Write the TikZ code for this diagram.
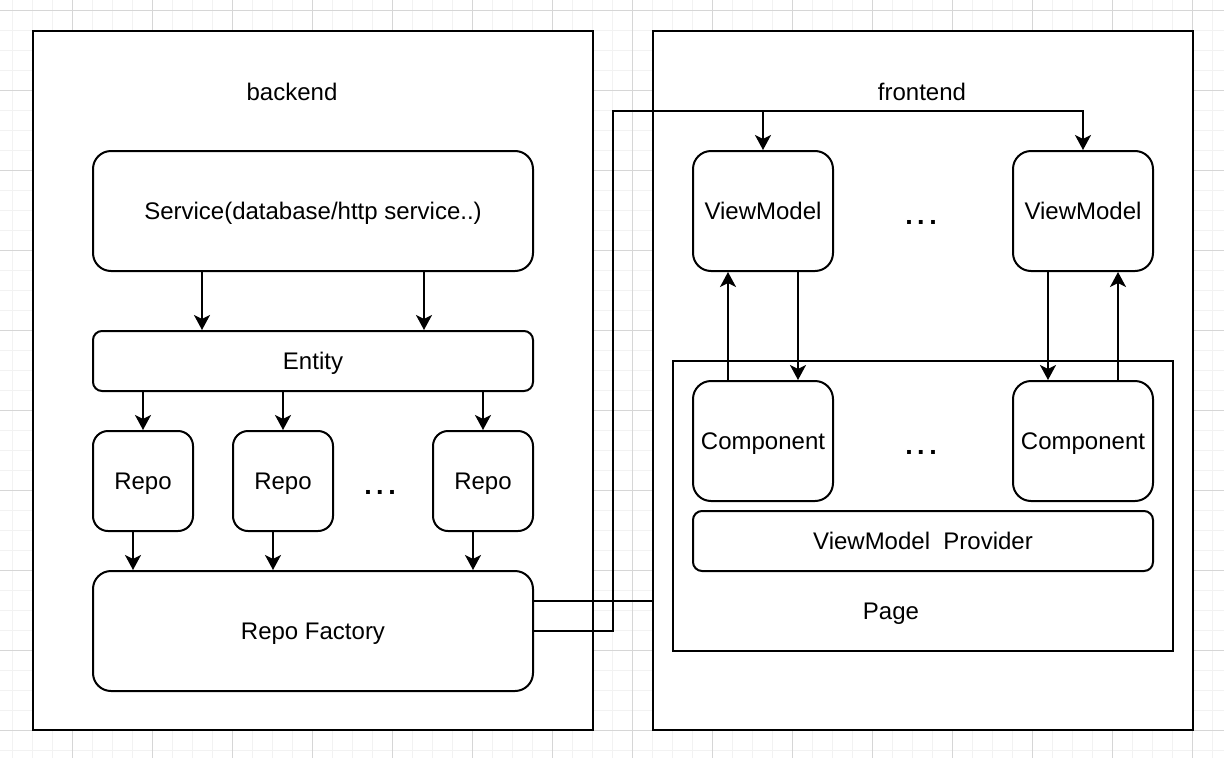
\documentclass[tikz,border=0pt]{standalone}
\usepackage{fontspec}
\setmainfont{Liberation Sans}
\usetikzlibrary{arrows.meta}
\definecolor{gridminor}{HTML}{F2F2F2}
\definecolor{gridmajor}{HTML}{D6D6D6}
\tikzset{
  box/.style={draw=black, line width=2pt, fill=white, inner sep=0pt, align=center, text height=17.2pt, text depth=0pt},
  rbox/.style={box, rounded corners=#1},
  lbl/.style={inner sep=0pt, text height=17.2pt, text depth=0pt},
  conn/.style={line width=2pt, draw=black},
  arr/.style={conn, -{Stealth[length=15pt,width=16pt,inset=4pt]}},
  dots/.style={inner sep=0pt, font=\fontsize{27}{30}\selectfont\bfseries}
}
\newcommand{\mydots}{.\kern4.5pt.\kern4.5pt.}
\begin{document}
\begin{tikzpicture}[x=1pt, y=-1pt, font=\fontsize{24}{28}\selectfont]
\useasboundingbox (0,0) rectangle (1224,758);
\fill[white] (0,0) rectangle (1224,758);
% grid
\foreach \k in {0,...,60} {\draw[gridminor, line width=1pt] (12+20*\k,0) -- (12+20*\k,758);}
\foreach \k in {0,...,37} {\draw[gridminor, line width=1pt] (0,10+20*\k) -- (1224,10+20*\k);}
\foreach \k in {0,...,14} {\draw[gridmajor, line width=1pt] (72+80*\k,0) -- (72+80*\k,758);}
\foreach \k in {0,...,9} {\draw[gridmajor, line width=1pt] (0,10+80*\k) -- (1224,10+80*\k);}

% containers
\node[box, minimum width=560pt, minimum height=699pt] (be) at (313,380.5) {};
\node[box, minimum width=540pt, minimum height=699pt] (fe) at (923,380.5) {};
\node[lbl] (belbl) at (292,92) {backend};
\node[lbl] (felbl) at (922,92) {frontend};

% backend
\node[rbox=18pt, minimum width=440pt, minimum height=120pt] (svc) at (313,211) {Service(database/http service..)};
\node[rbox=9pt, minimum width=440pt, minimum height=60pt] (ent) at (313,361) {Entity};
\node[rbox=15pt, minimum width=100pt, minimum height=100pt] (r1) at (143,481) {Repo};
\node[rbox=15pt, minimum width=100pt, minimum height=100pt] (r2) at (283,481) {Repo};
\node[rbox=15pt, minimum width=100pt, minimum height=100pt] (r3) at (483,481) {Repo};
\node[dots, anchor=base] (bdots) at (380,494) {\mydots};
\node[rbox=18pt, minimum width=440pt, minimum height=120pt] (fac) at (313,631) {Repo Factory};

% frontend
\node[rbox=18pt, minimum width=140pt, minimum height=120pt] (vm1) at (763,211) {ViewModel};
\node[rbox=18pt, minimum width=140pt, minimum height=120pt] (vm2) at (1083,211) {ViewModel};
\node[dots, anchor=base] (fdots1) at (921,224) {\mydots};
\node[box, minimum width=500pt, minimum height=290pt] (page) at (923,506) {};
\node[rbox=18pt, minimum width=140pt, minimum height=120pt] (c1) at (763,441) {Component};
\node[rbox=18pt, minimum width=140pt, minimum height=120pt] (c2) at (1083,441) {Component};
\node[dots, anchor=base] (fdots2) at (921,454) {\mydots};
\node[rbox=9pt, minimum width=460pt, minimum height=60pt] (prov) at (923,541) {ViewModel\ \ Provider};
\node[lbl] (pagelbl) at (891,611) {Page};

% backend connectors
\draw[arr] ([xshift=110pt]svc.south west) -- ([xshift=110pt]ent.north west);
\draw[arr] ([xshift=-110pt]svc.south east) -- ([xshift=-110pt]ent.north east);
\draw[arr] (ent.south -| r1) -- (r1.north);
\draw[arr] (ent.south -| r2) -- (r2.north);
\draw[arr] (ent.south -| r3) -- (r3.north);
\draw[arr] ([xshift=-10pt]r1.south) -- ([xshift=-10pt]r1.south |- fac.north);
\draw[arr] ([xshift=-10pt]r2.south) -- ([xshift=-10pt]r2.south |- fac.north);
\draw[arr] ([xshift=-10pt]r3.south) -- ([xshift=-10pt]r3.south |- fac.north);

% frontend connectors
\draw[arr] ([xshift=-35pt]c1.north) -- ([xshift=-35pt]vm1.south);
\draw[arr] ([xshift=35pt]vm1.south) -- ([xshift=35pt]c1.north);
\draw[arr] ([xshift=-35pt]vm2.south) -- ([xshift=-35pt]c2.north);
\draw[arr] ([xshift=35pt]c2.north) -- ([xshift=35pt]vm2.south);

% cross connectors
\coordinate (bend) at (613,111);
\draw[arr] (fac.east) -| (bend) -| (vm2.north);
\draw[arr] (vm1.north |- bend) -- (vm1.north);
\draw[conn] ([yshift=30pt]fac.east) -- ([yshift=30pt]fac.east -| fe.west);
\end{tikzpicture}
\end{document}
